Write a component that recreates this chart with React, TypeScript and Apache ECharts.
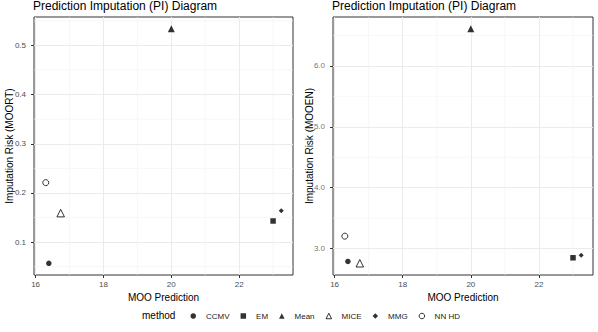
import React, { useEffect, useRef } from "react";
import * as echarts from "echarts";

const methods = ["CCMV", "EM", "Mean", "MICE", "MMG", "NN HD"];
const mooPrediction = [16.39, 23.0, 20.0, 16.74, 23.24, 16.3];
const riskMoort = [0.057, 0.143, 0.534, 0.159, 0.164, 0.221];
const riskMooen = [2.79, 2.85, 6.61, 2.76, 2.89, 3.205];

const xMajor = [16, 18, 20, 22];
const xMinor = [17, 19, 21, 23];
const yMajorLeft = [0.1, 0.2, 0.3, 0.4, 0.5];
const yMinorLeft = [0.05, 0.15, 0.25, 0.35, 0.45, 0.55];
const yMajorRight = [3, 4, 5, 6];
const yMinorRight = [3.5, 4.5, 5.5, 6.5];

const symbols = ["circle", "rect", "triangle", "triangle", "diamond", "circle"];
const sizes = [5.5, 5.5, 7, 7.5, 5, 6];
const hollow = [false, false, false, true, false, true];

const FONT = "Liberation Sans, Arial, Helvetica, sans-serif";

function expand(vals: number[]) {
  const lo = Math.min(...vals);
  const hi = Math.max(...vals);
  const d = (hi - lo) * 0.05;
  return [lo - d, hi + d];
}

export default function App() {
  const ref = useRef<HTMLDivElement>(null);
  useEffect(() => {
    if (!ref.current) return;
    const chart = echarts.init(ref.current, null, { renderer: "svg" });
    const [xMin, xMax] = expand(mooPrediction);
    const [yLMin, yLMax] = expand(riskMoort);
    const [yRMin, yRMax] = expand(riskMooen);

    const tickLabelStyle = { fontFamily: FONT, fontSize: 8, color: "#4d4d4d" };

    const xAxisBase = (gridIndex: number) => ({
      type: "value",
      gridIndex,
      min: xMin,
      max: xMax,
      name: "MOO Prediction",
      nameLocation: "middle",
      nameGap: 16,
      nameTextStyle: { fontFamily: FONT, fontSize: 10, color: "#000" },
      axisLine: { show: false },
      axisTick: { show: true, length: 3, lineStyle: { color: "#333" }, customValues: xMajor },
      axisLabel: {
        customValues: xMajor,
        ...tickLabelStyle,
        margin: 5,
        hideOverlap: false,
        formatter: (v: number) => String(Math.round(v)),
      },
      splitLine: { show: true, lineStyle: { color: "#ebebeb", width: 1 } },
    });

    const yAxisBase = (gridIndex: number, min: number, max: number, major: number[], showLabels: boolean) => ({
      type: "value",
      gridIndex,
      min,
      max,
      axisLine: { show: false },
      axisTick: { show: true, length: 3, lineStyle: { color: "#333" }, customValues: major },
      axisLabel: {
        show: showLabels,
        customValues: major,
        ...tickLabelStyle,
        margin: 8,
        hideOverlap: false,
        formatter: (v: number) => v.toFixed(1),
      },
      splitLine: { show: true, lineStyle: { color: "#ebebeb", width: 1 } },
    });

    const minorStyle = { color: "#f1f1f1", width: 0.6 };
    const minorSeries = (g: number, yMin: number, yMax: number, ys: number[]) => {
      const out: any[] = [];
      xMinor.forEach((x) =>
        out.push({
          type: "line", xAxisIndex: g, yAxisIndex: g, silent: true, symbol: "none", z: 1,
          lineStyle: minorStyle, emphasis: { disabled: true },
          data: [[x, yMin], [x, yMax]],
        })
      );
      ys.filter((y) => y >= yMin && y <= yMax).forEach((y) =>
        out.push({
          type: "line", xAxisIndex: g, yAxisIndex: g, silent: true, symbol: "none", z: 1,
          lineStyle: minorStyle, emphasis: { disabled: true },
          data: [[xMin, y], [xMax, y]],
        })
      );
      return out;
    };

    // tick labels of the right panel's y axis, placed through the axis scale
    const rightTickLabels = {
      type: "scatter",
      xAxisIndex: 1,
      yAxisIndex: 1,
      silent: true,
      symbolSize: 0,
      clip: false,
      z: 4,
      itemStyle: { color: "transparent" },
      label: {
        show: true,
        position: "left",
        distance: 8,
        ...tickLabelStyle,
        formatter: (p: any) => Number(p.value[1]).toFixed(1),
      },
      emphasis: { disabled: true },
      data: yMajorRight.map((v) => [xMin, v]),
    };

    const series: any[] = [
      ...minorSeries(0, yLMin, yLMax, yMinorLeft),
      ...minorSeries(1, yRMin, yRMax, yMinorRight),
      rightTickLabels,
    ];
    [riskMoort, riskMooen].forEach((ys, g) => {
      methods.forEach((m, i) => {
        series.push({
          type: "scatter",
          name: m,
          xAxisIndex: g,
          yAxisIndex: g,
          symbol: symbols[i],
          symbolSize: sizes[i],
          itemStyle: hollow[i]
            ? { color: "#ffffff", borderColor: "#000", borderWidth: 1 }
            : { color: "#000" },
          data: [[mooPrediction[i], ys[i]]],
          z: 3,
        });
      });
    });

    const titleStyle = { fontFamily: FONT, fontSize: 12, fontWeight: 400, color: "#000" };
    const yNameStyle = { fontFamily: FONT, fontSize: 10, fill: "#000", textAlign: "center", textVerticalAlign: "middle" };

    chart.setOption({
      animation: false,
      backgroundColor: "#fff",
      title: [
        { text: "Prediction Imputation (PI) Diagram", left: 33, top: 0, padding: 0, textStyle: titleStyle },
        { text: "Prediction Imputation (PI) Diagram", left: 332, top: 0, padding: 0, textStyle: titleStyle },
      ],
      grid: [
        { left: 34, top: 17, width: 259, height: 258, show: true, borderColor: "#333", borderWidth: 1, backgroundColor: "transparent" },
        { left: 333, top: 17, width: 260, height: 258, show: true, borderColor: "#333", borderWidth: 1, backgroundColor: "transparent" },
      ],
      xAxis: [xAxisBase(0), xAxisBase(1)],
      yAxis: [
        yAxisBase(0, yLMin, yLMax, yMajorLeft, true),
        yAxisBase(1, yRMin, yRMax, yMajorRight, false),
      ],
      legend: {
        data: methods,
        left: 185.5,
        top: 307,
        itemWidth: 5.5,
        itemHeight: 5.5,
        itemGap: 11,
        selectedMode: false,
        itemStyle: { borderWidth: 1 },
        textStyle: { fontFamily: FONT, fontSize: 8, color: "#1a1a1a", padding: [0, 0, 0, 5] },
      },
      graphic: [
        { type: "text", left: 142, top: 310, style: { text: "method", fontFamily: FONT, fontSize: 10, fill: "#000" } },
        { type: "text", x: 9, y: 146, rotation: Math.PI / 2, style: { text: "Imputation Risk (MOORT)", ...yNameStyle } },
        { type: "text", x: 309.5, y: 146, rotation: Math.PI / 2, style: { text: "Imputation Risk (MOOEN)", ...yNameStyle } },
      ],
      series,
    });
    return () => chart.dispose();
  }, []);
  return <div ref={ref} style={{ position: "absolute", left: 0, top: 0, width: 598, height: 332 }} />;
}
